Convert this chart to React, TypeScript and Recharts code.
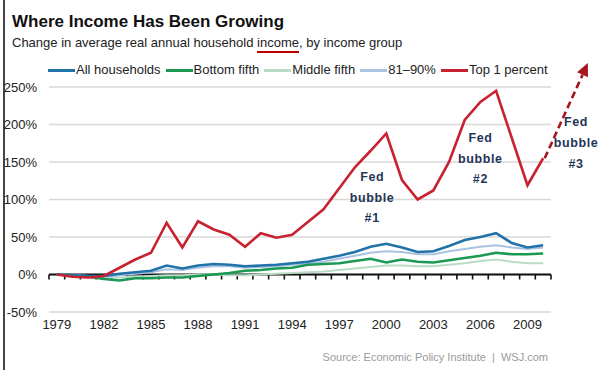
import { CartesianGrid, ComposedChart, Line, ReferenceDot, ReferenceLine, XAxis, YAxis } from "recharts";

const years = [
  1979, 1980, 1981, 1982, 1983, 1984, 1985, 1986, 1987, 1988, 1989, 1990, 1991, 1992, 1993, 1994,
  1995, 1996, 1997, 1998, 1999, 2000, 2001, 2002, 2003, 2004, 2005, 2006, 2007, 2008, 2009, 2010
];
const allHouseholds = [0, -1, -2, -2, 1, 3, 5, 12, 8, 12, 14, 13, 11, 12, 13, 15, 17, 21, 25, 30, 37, 41, 36, 30, 31, 38, 46, 50, 55, 42, 36, 39];
const bottomFifth = [0, -1, -3, -6, -8, -5, -5, -4, -4, -2, 0, 2, 5, 6, 8, 9, 13, 14, 15, 18, 21, 16, 20, 17, 16, 19, 22, 25, 29, 27, 27, 28];
const middleFifth = [0, -1, -2, -4, -4, -3, -2, -1, -1, 0, 0, -1, -1, 0, 1, 2, 3, 4, 6, 8, 10, 12, 12, 11, 11, 13, 15, 18, 20, 17, 15, 15];
const p81to90 = [0, -1, -2, -3, -1, 1, 3, 7, 6, 9, 11, 11, 9, 10, 11, 13, 15, 17, 21, 25, 29, 31, 30, 27, 27, 31, 34, 37, 39, 36, 34, 36];
const top1 = [0, -3, -4, -2, 9, 20, 29, 69, 36, 71, 60, 53, 37, 55, 49, 53, 70, 87, 115, 143, 165, 188, 126, 100, 112, 150, 206, 230, 245, 182, 119, 155];

const xTicks = [1979, 1982, 1985, 1988, 1991, 1994, 1997, 2000, 2003, 2006, 2009];
const yTicks = [-50, 0, 50, 100, 150, 200, 250];

const series = [
  { key: "all", name: "All households", color: "#2272aa", width: 2.6, values: allHouseholds },
  { key: "bottom", name: "Bottom fifth", color: "#1b9852", width: 2.6, values: bottomFifth },
  { key: "middle", name: "Middle fifth", color: "#b8dcc6", width: 2.2, values: middleFifth },
  { key: "p8190", name: "81\u201390%", color: "#a9c3e1", width: 2.2, values: p81to90 },
  { key: "top1", name: "Top 1 percent", color: "#c8212f", width: 2.6, values: top1 }
];
const drawOrder = ["middle", "p8190", "bottom", "all", "top1"];

const bubbles = [
  { x: 1999.1, y: 130, tag: "#1" },
  { x: 2006.0, y: 182, tag: "#2" },
  { x: 2012.1, y: 203, tag: "#3" }
];

const data = years.map((year, i) => {
  const row: Record<string, number> = { year };
  series.forEach((s) => (row[s.key] = s.values[i]));
  return row;
});

// small year ticks sit on the zero line, between the data points
const yearEdges = [...years.map((y) => y - 0.5), years[years.length - 1] + 0.5];

const font = '"Liberation Sans", Arial, sans-serif';

function TickMark(props: any) {
  const { x1, y1 } = props;
  return <line x1={x1} y1={y1} x2={x1} y2={y1 + 5} stroke="#111" strokeWidth={1.6} />;
}

function Arrow(props: any) {
  const { x1, y1, x2, y2 } = props;
  const a = Math.atan2(y2 - y1, x2 - x1);
  const len = 13;
  const bx = x2 - len * Math.cos(a);
  const by = y2 - len * Math.sin(a);
  const px = 6 * Math.cos(a + Math.PI / 2);
  const py = 6 * Math.sin(a + Math.PI / 2);
  return (
    <g>
      <line x1={x1} y1={y1} x2={bx} y2={by} stroke="#a5161f" strokeWidth={2.6} strokeDasharray="7 4" />
      <polygon points={`${x2},${y2} ${bx + px},${by + py} ${bx - px},${by - py}`} fill="#a5161f" />
    </g>
  );
}

function BubbleLabel(props: any) {
  const { cx, cy, tag } = props;
  const lines = ["Fed", "bubble", tag];
  return (
    <text textAnchor="middle" fill="#1f3557" fontSize={12.5} fontWeight="bold" letterSpacing={0.6} fontFamily={font}>
      {lines.map((t, i) => (
        <tspan key={t} x={cx} y={cy + i * 20.7} dominantBaseline="central">
          {t}
        </tspan>
      ))}
    </text>
  );
}

export default function App() {
  return (
    <div style={{ position: "absolute", left: 0, top: 0, width: 600, height: 370, background: "#fff", fontFamily: font, overflow: "hidden" }}>
      <div style={{ position: "absolute", left: 3, top: 0, width: 1.5, height: 370, background: "#444" }} />
      <div style={{ position: "absolute", left: 12, top: 12.6, fontSize: 17, lineHeight: "17px", fontWeight: "bold", color: "#111", whiteSpace: "nowrap" }}>
        Where Income Has Been Growing
      </div>
      <div style={{ position: "absolute", left: 12, top: 35.5, fontSize: 13, lineHeight: "13px", color: "#222", whiteSpace: "nowrap" }}>
        Change in average real annual household{" "}
        <span style={{ textDecoration: "underline", textDecorationColor: "#c00000", textDecorationThickness: 2, textUnderlineOffset: 4 }}>income</span>, by income group
      </div>
      <div style={{ position: "absolute", left: 48, top: 63, display: "flex", fontSize: 13, lineHeight: "14px", color: "#222", whiteSpace: "nowrap" }}>
        {series.map((s) => (
          <div key={s.key} style={{ display: "flex", alignItems: "center", marginRight: 5 }}>
            <div style={{ width: 27, height: 3, background: s.color, marginRight: 1 }} />
            <span>{s.name}</span>
          </div>
        ))}
      </div>

      <ComposedChart width={600} height={370} data={data} margin={{ top: 87, right: 49, bottom: 28, left: 0 }}>
        <CartesianGrid vertical={false} stroke="#d8d8d8" strokeWidth={1.5} />
        <XAxis
          dataKey="year"
          type="number"
          domain={[1978.5, 2010.5]}
          ticks={xTicks}
          height={30}
          axisLine={false}
          tickLine={false}
          tick={{ fill: "#222", fontSize: 13 }}
        />
        <YAxis
          type="number"
          domain={[-50, 250]}
          ticks={yTicks}
          width={49}
          axisLine={false}
          tickLine={false}
          tickMargin={6}
          tickFormatter={(v) => `${v}%`}
          tick={{ fill: "#222", fontSize: 13 }}
        />
        <ReferenceLine y={0} stroke="#111" strokeWidth={1.8} />
        {yearEdges.map((e) => (
          <ReferenceLine
            key={e}
            segment={[
              { x: e, y: 0 },
              { x: e, y: 0 }
            ]}
            ifOverflow="visible"
            shape={TickMark}
          />
        ))}
        {drawOrder.map((k) => {
          const s = series.find((d) => d.key === k)!;
          return (
            <Line
              key={s.key}
              type="linear"
              dataKey={s.key}
              name={s.name}
              stroke={s.color}
              strokeWidth={s.width}
              dot={false}
              activeDot={false}
              isAnimationActive={false}
            />
          );
        })}
        <ReferenceLine
          segment={[
            { x: 2010.1, y: 155 },
            { x: 2012.85, y: 282 }
          ]}
          ifOverflow="visible"
          shape={Arrow}
        />
        {bubbles.map((b) => (
          <ReferenceDot key={b.tag} x={b.x} y={b.y} r={0} ifOverflow="visible" shape={(p: any) => <BubbleLabel {...p} tag={b.tag} />} />
        ))}
      </ComposedChart>

      <div style={{ position: "absolute", right: 52, top: 352, fontSize: 11, lineHeight: "11px", color: "#9a9a9a", whiteSpace: "nowrap" }}>
        Source: Economic Policy Institute&nbsp; | &nbsp;WSJ.com
      </div>
    </div>
  );
}
